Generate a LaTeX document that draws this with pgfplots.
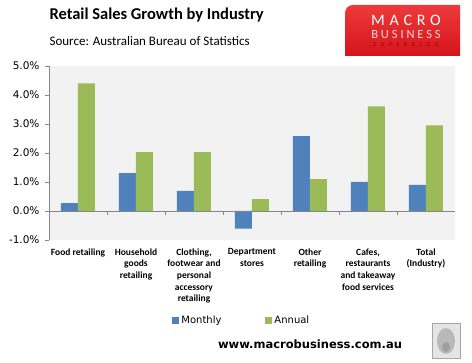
\documentclass[border=0pt]{standalone}
\usepackage{pgfplots}
\pgfplotsset{compat=1.18}
\usepackage{fontspec}
\setmainfont{Carlito}
\newfontfamily\dejavu{DejaVu Sans}
\newfontfamily\logoA[LetterSpace=30]{Carlito}
\newfontfamily\logoB[LetterSpace=23]{Carlito}
\newfontfamily\logoC[LetterSpace=75]{Carlito}
\definecolor{mblue}{HTML}{4F81BD}
\definecolor{mgreen}{HTML}{9BBB59}
\definecolor{plotbg}{HTML}{F2F2F2}
\definecolor{axgray}{HTML}{868686}
\definecolor{redtop}{HTML}{EE3A3A}
\definecolor{redbot}{HTML}{D4141C}

\begin{document}
\begin{tikzpicture}[x=1pt,y=1pt]
\useasboundingbox[fill=white] (0,0) rectangle (472,363);
\begin{axis}[
  at={(49pt,123pt)}, anchor=south west,
  scale only axis, width=406pt, height=174pt,
  xmin=-0.5, xmax=6.5, ymin=-1, ymax=5,
  ybar=0pt, bar width=17pt,
  axis background/.style={fill=plotbg},
  axis x line*=bottom, axis y line*=left,
  x axis line style={draw=none},
  y axis line style={axgray, line width=0.8pt},
  tick align=outside,
  xtick={0,...,6},
  xticklabels={
    {Food retailing},
    {Household\\goods\\retailing},
    {Clothing,\\footwear and\\personal\\accessory\\retailing},
    {Department\\stores},
    {Other\\retailing},
    {Cafes,\\restaurants\\and takeaway\\food services},
    {Total\\(Industry)}},
  x tick style={draw=none},
  x tick label style={font=\fontsize{9.5}{11.7}\selectfont\bfseries, align=center, anchor=north, yshift=-1pt},
  ytick={-1,0,...,5},
  y tick style={axgray, line width=0.8pt},
  major tick length=4pt,
  /pgf/number format/assume math mode=true,
  yticklabel={\pgfmathprintnumber[fixed,fixed zerofill,precision=1]{\tick}\%},
  y tick label style={font=\dejavu\fontsize{10.5}{12}\selectfont, xshift=-2pt},
  legend style={at={(0.475,-0.46)}, anchor=center, draw=none, fill=none,
    legend columns=2, font=\dejavu\fontsize{10}{12}\selectfont,
    /tikz/every even column/.append style={column sep=42pt}},
  legend image code/.code={\fill[#1] (0pt,-3.5pt) rectangle (7pt,3.5pt);},
]
\addplot[fill=mblue, draw=none] coordinates {(0,0.27) (1,1.31) (2,0.69) (3,-0.61) (4,2.58) (5,1.00) (6,0.90)};
\addplot[fill=mgreen, draw=none] coordinates {(0,4.40) (1,2.03) (2,2.03) (3,0.41) (4,1.10) (5,3.61) (6,2.95)};
\legend{Monthly, Annual}
\draw[axgray, line width=0.8pt] (axis cs:-0.5,0) -- (axis cs:6.5,0);
\pgfplotsinvokeforeach{0.5,1.5,2.5,3.5,4.5,5.5,6.5}{
  \draw[axgray, line width=0.8pt] (axis cs:#1,0) -- ([yshift=-4pt]axis cs:#1,0);
}
\end{axis}
% titles
\node[anchor=west, font=\fontsize{16.5}{19}\selectfont\bfseries] at (46,348) {Retail Sales Growth by Industry};
\node[anchor=west, font=\fontsize{13}{15}\selectfont] at (46,322) {Source: Australian Bureau of Statistics};
% logo
\shade[top color=redtop, bottom color=redbot] (345,307) -- (345,350) to[out=90,in=180] (353,358) -- (460,358) -- (460,307) -- cycle;
\node[text=white, font=\logoA\fontsize{16}{18}\selectfont] at (406,343) {MACRO};
\node[text=white!85!red, font=\logoB\fontsize{12.5}{14}\selectfont] at (406,329) {BUSINESS};
\node[text=red!60!black, font=\logoC\fontsize{6}{7}\selectfont] at (406,318) {SUPERBLOG};
% url
\node[font=\dejavu\bfseries\fontsize{11.5}{14}\selectfont] at (310,19) {www.macrobusiness.com.au};
% wolf picture placeholder
\draw[gray!70, fill=gray!20] (432,5) rectangle (460,40);
\fill[gray!55] (446,22) ellipse (9pt and 13pt);
\fill[gray!75] (446,16) ellipse (4pt and 5pt);
\end{tikzpicture}
\end{document}
